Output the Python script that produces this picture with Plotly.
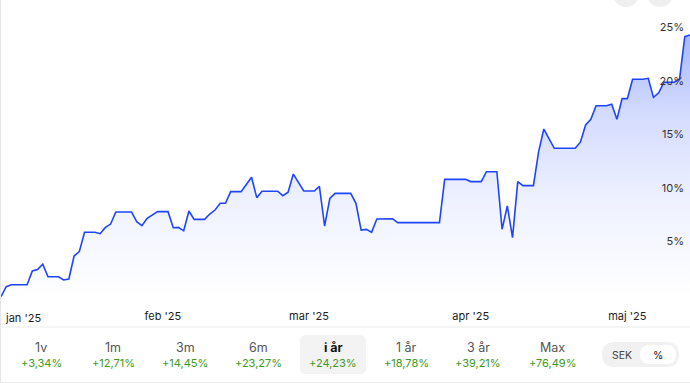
import pandas as pd
import plotly.graph_objects as go

# ---- data ----
start_date = "2025-01-01"
values = [
    -0.15, 0.78, 0.96, 0.96, 0.96, 0.96, 2.24, 2.37, 2.87, 1.71,
    1.71, 1.71, 1.40, 1.50, 3.64, 4.05, 5.86, 5.86, 5.86, 5.73,
    6.32, 6.63, 7.76, 7.76, 7.76, 7.76, 6.85, 6.48, 7.17, 7.48,
    7.79, 7.79, 7.79, 6.29, 6.32, 6.00, 7.85, 7.07, 7.07, 7.07,
    7.57, 7.94, 8.57, 8.57, 9.66, 9.66, 9.66, 10.33, 11.00, 9.10,
    9.70, 9.70, 9.70, 9.70, 9.28, 9.60, 11.30, 10.50, 9.72, 9.72,
    9.72, 10.16, 6.45, 9.03, 9.50, 9.50, 9.50, 9.50, 8.57, 6.07,
    6.13, 5.86, 7.10, 7.10, 7.12, 7.13, 6.76, 6.76, 6.76, 6.76,
    6.76, 6.76, 6.76, 6.76, 6.76, 10.81, 10.81, 10.81, 10.81, 10.81,
    10.60, 10.60, 10.60, 11.52, 11.52, 11.52, 6.14, 8.32, 5.36, 10.60,
    10.22, 10.22, 10.22, 13.40, 15.51, 14.60, 13.71, 13.71, 13.71, 13.71,
    13.71, 14.28, 15.89, 16.42, 17.69, 17.69, 17.69, 17.82, 16.42, 18.35,
    18.35, 20.16, 20.16, 20.16, 20.25, 18.47, 18.90, 19.88, 19.88, 19.88,
    20.19, 24.14, 24.30,
]
dates = pd.date_range(start_date, periods=len(values), freq="D")

month_ticks = ["2025-01-01", "2025-02-01", "2025-03-01", "2025-04-01", "2025-05-01"]
month_labels = ["jan '25", "feb '25", "mar '25", "apr '25", "maj '25"]
y_ticks = [5, 10, 15, 20, 25]
y_tick_labels = ["5%", "10%", "15%", "20%", "25%"]

period_labels = ["1v", "1m", "3m", "6m", "i år", "1 år", "3 år", "Max"]
period_returns = ["+3,34%", "+12,71%", "+14,45%", "+23,27%", "+24,23%", "+18,78%", "+39,21%", "+76,49%"]
active_period = "i år"
toggle_labels = ["SEK", "%"]

# ---- layout geometry (pixels) ----
WIDTH, HEIGHT = 690, 383
L, R, T, B = 1, 0, 20, 81
W = WIDTH - L - R
H = HEIGHT - T - B
tab_x = [41, 113, 185, 258, 333, 406, 478, 552]


def px(x):
    return (x - L) / W


def py(y):
    return 1 - (y - T) / H


def rrect(x0, y0, x1, y1, r):
    pts = [
        ("M", [(x0 + r, y0)]), ("L", [(x1 - r, y0)]), ("Q", [(x1, y0), (x1, y0 + r)]),
        ("L", [(x1, y1 - r)]), ("Q", [(x1, y1), (x1 - r, y1)]), ("L", [(x0 + r, y1)]),
        ("Q", [(x0, y1), (x0, y1 - r)]), ("L", [(x0, y0 + r)]), ("Q", [(x0, y0), (x0 + r, y0)]),
    ]
    s = ""
    for cmd, ps in pts:
        s += cmd + " " + " ".join(f"{px(a):.5f},{py(b):.5f}" for a, b in ps) + " "
    return s + "Z"


fig = go.Figure()
fig.add_trace(go.Scatter(
    x=dates, y=values, mode="lines",
    line=dict(color="#1f45fc", width=1.6),
    fill="tozeroy",
    fillgradient=dict(
        type="vertical",
        colorscale=[[0, "rgba(60,95,250,0.0)"], [0.35, "rgba(60,95,250,0.08)"],
                    [0.7, "rgba(60,95,250,0.22)"], [1, "rgba(60,95,250,0.45)"]],
    ),
    hoverinfo="skip", showlegend=False,
))

fig.update_xaxes(
    range=[dates[0], dates[-1]],
    tickvals=month_ticks[1:], ticktext=month_labels[1:],
    showgrid=False, zeroline=False, showline=False, ticks="",
    tickfont=dict(size=11, color="#222", family="Inter"),
    ticklabelstandoff=6,
)
fig.update_yaxes(
    range=[-0.654, 25.70], side="right", ticklabelposition="inside",
    tickvals=y_ticks, ticktext=y_tick_labels,
    showgrid=False, zeroline=False, showline=False, ticks="",
    tickfont=dict(size=11, color="#333", family="Inter"),
    ticklabelstandoff=3,
)

shapes = []
annotations = []
# left border
shapes.append(dict(type="line", xref="paper", yref="paper", x0=px(0.5), x1=px(0.5),
                   y0=py(0), y1=py(383), line=dict(color="#e6e6e6", width=1)))
# separator and bottom line
shapes.append(dict(type="line", xref="paper", yref="paper", x0=px(0), x1=px(690),
                   y0=py(327), y1=py(327), line=dict(color="#ebebeb", width=1)))
shapes.append(dict(type="line", xref="paper", yref="paper", x0=px(0), x1=px(690),
                   y0=py(382.5), y1=py(382.5), line=dict(color="#ebebeb", width=1)))
# active tab background
i_act = period_labels.index(active_period)
shapes.append(dict(type="path", xref="paper", yref="paper",
                   path=rrect(tab_x[i_act] - 33, 335, tab_x[i_act] + 33, 374, 6),
                   fillcolor="#f3f3f3", line=dict(width=0), layer="below"))
# toggle pill
shapes.append(dict(type="path", xref="paper", yref="paper", path=rrect(602, 342, 679, 367, 12.5),
                   fillcolor="#f1f1f1", line=dict(width=0)))
shapes.append(dict(type="path", xref="paper", yref="paper", path=rrect(640, 345, 676, 364, 9.5),
                   fillcolor="#ffffff", line=dict(width=0)))
# top-right buttons (partially visible)
for cx in [626, 660]:
    shapes.append(dict(type="circle", xref="paper", yref="paper",
                       x0=px(cx - 13), x1=px(cx + 13), y0=py(7), y1=py(-19),
                       fillcolor="#efefef", line=dict(width=0)))

# jan label (clamped to left edge)
annotations.append(dict(x=px(3), y=py(318), xref="paper", yref="paper", text=month_labels[0],
                        showarrow=False, xanchor="left", yanchor="middle",
                        font=dict(size=11, color="#222", family="Inter")))

for lab, ret, x in zip(period_labels, period_returns, tab_x):
    active = lab == active_period
    annotations.append(dict(x=px(x), y=py(347), xref="paper", yref="paper",
                            text=f"<b>{lab}</b>" if active else lab, showarrow=False,
                            xanchor="center", yanchor="middle",
                            font=dict(size=12.5, color="#111" if active else "#555", family="Inter")))
    annotations.append(dict(x=px(x), y=py(363), xref="paper", yref="paper", text=ret,
                            showarrow=False, xanchor="center", yanchor="middle",
                            font=dict(size=11, color="#3d9a22", family="Inter")))

annotations.append(dict(x=px(622), y=py(355), xref="paper", yref="paper", text=toggle_labels[0],
                        showarrow=False, xanchor="center", yanchor="middle",
                        font=dict(size=10.5, color="#444", family="Inter")))
annotations.append(dict(x=px(658), y=py(355), xref="paper", yref="paper", text=toggle_labels[1],
                        showarrow=False, xanchor="center", yanchor="middle",
                        font=dict(size=10.5, color="#111", family="Inter")))

fig.update_layout(
    width=WIDTH, height=HEIGHT,
    margin=dict(l=L, r=R, t=T, b=B),
    paper_bgcolor="white", plot_bgcolor="white",
    shapes=shapes, annotations=annotations,
    font=dict(family="Inter"),
)

fig.write_html("out.html", config={"displayModeBar": False})
